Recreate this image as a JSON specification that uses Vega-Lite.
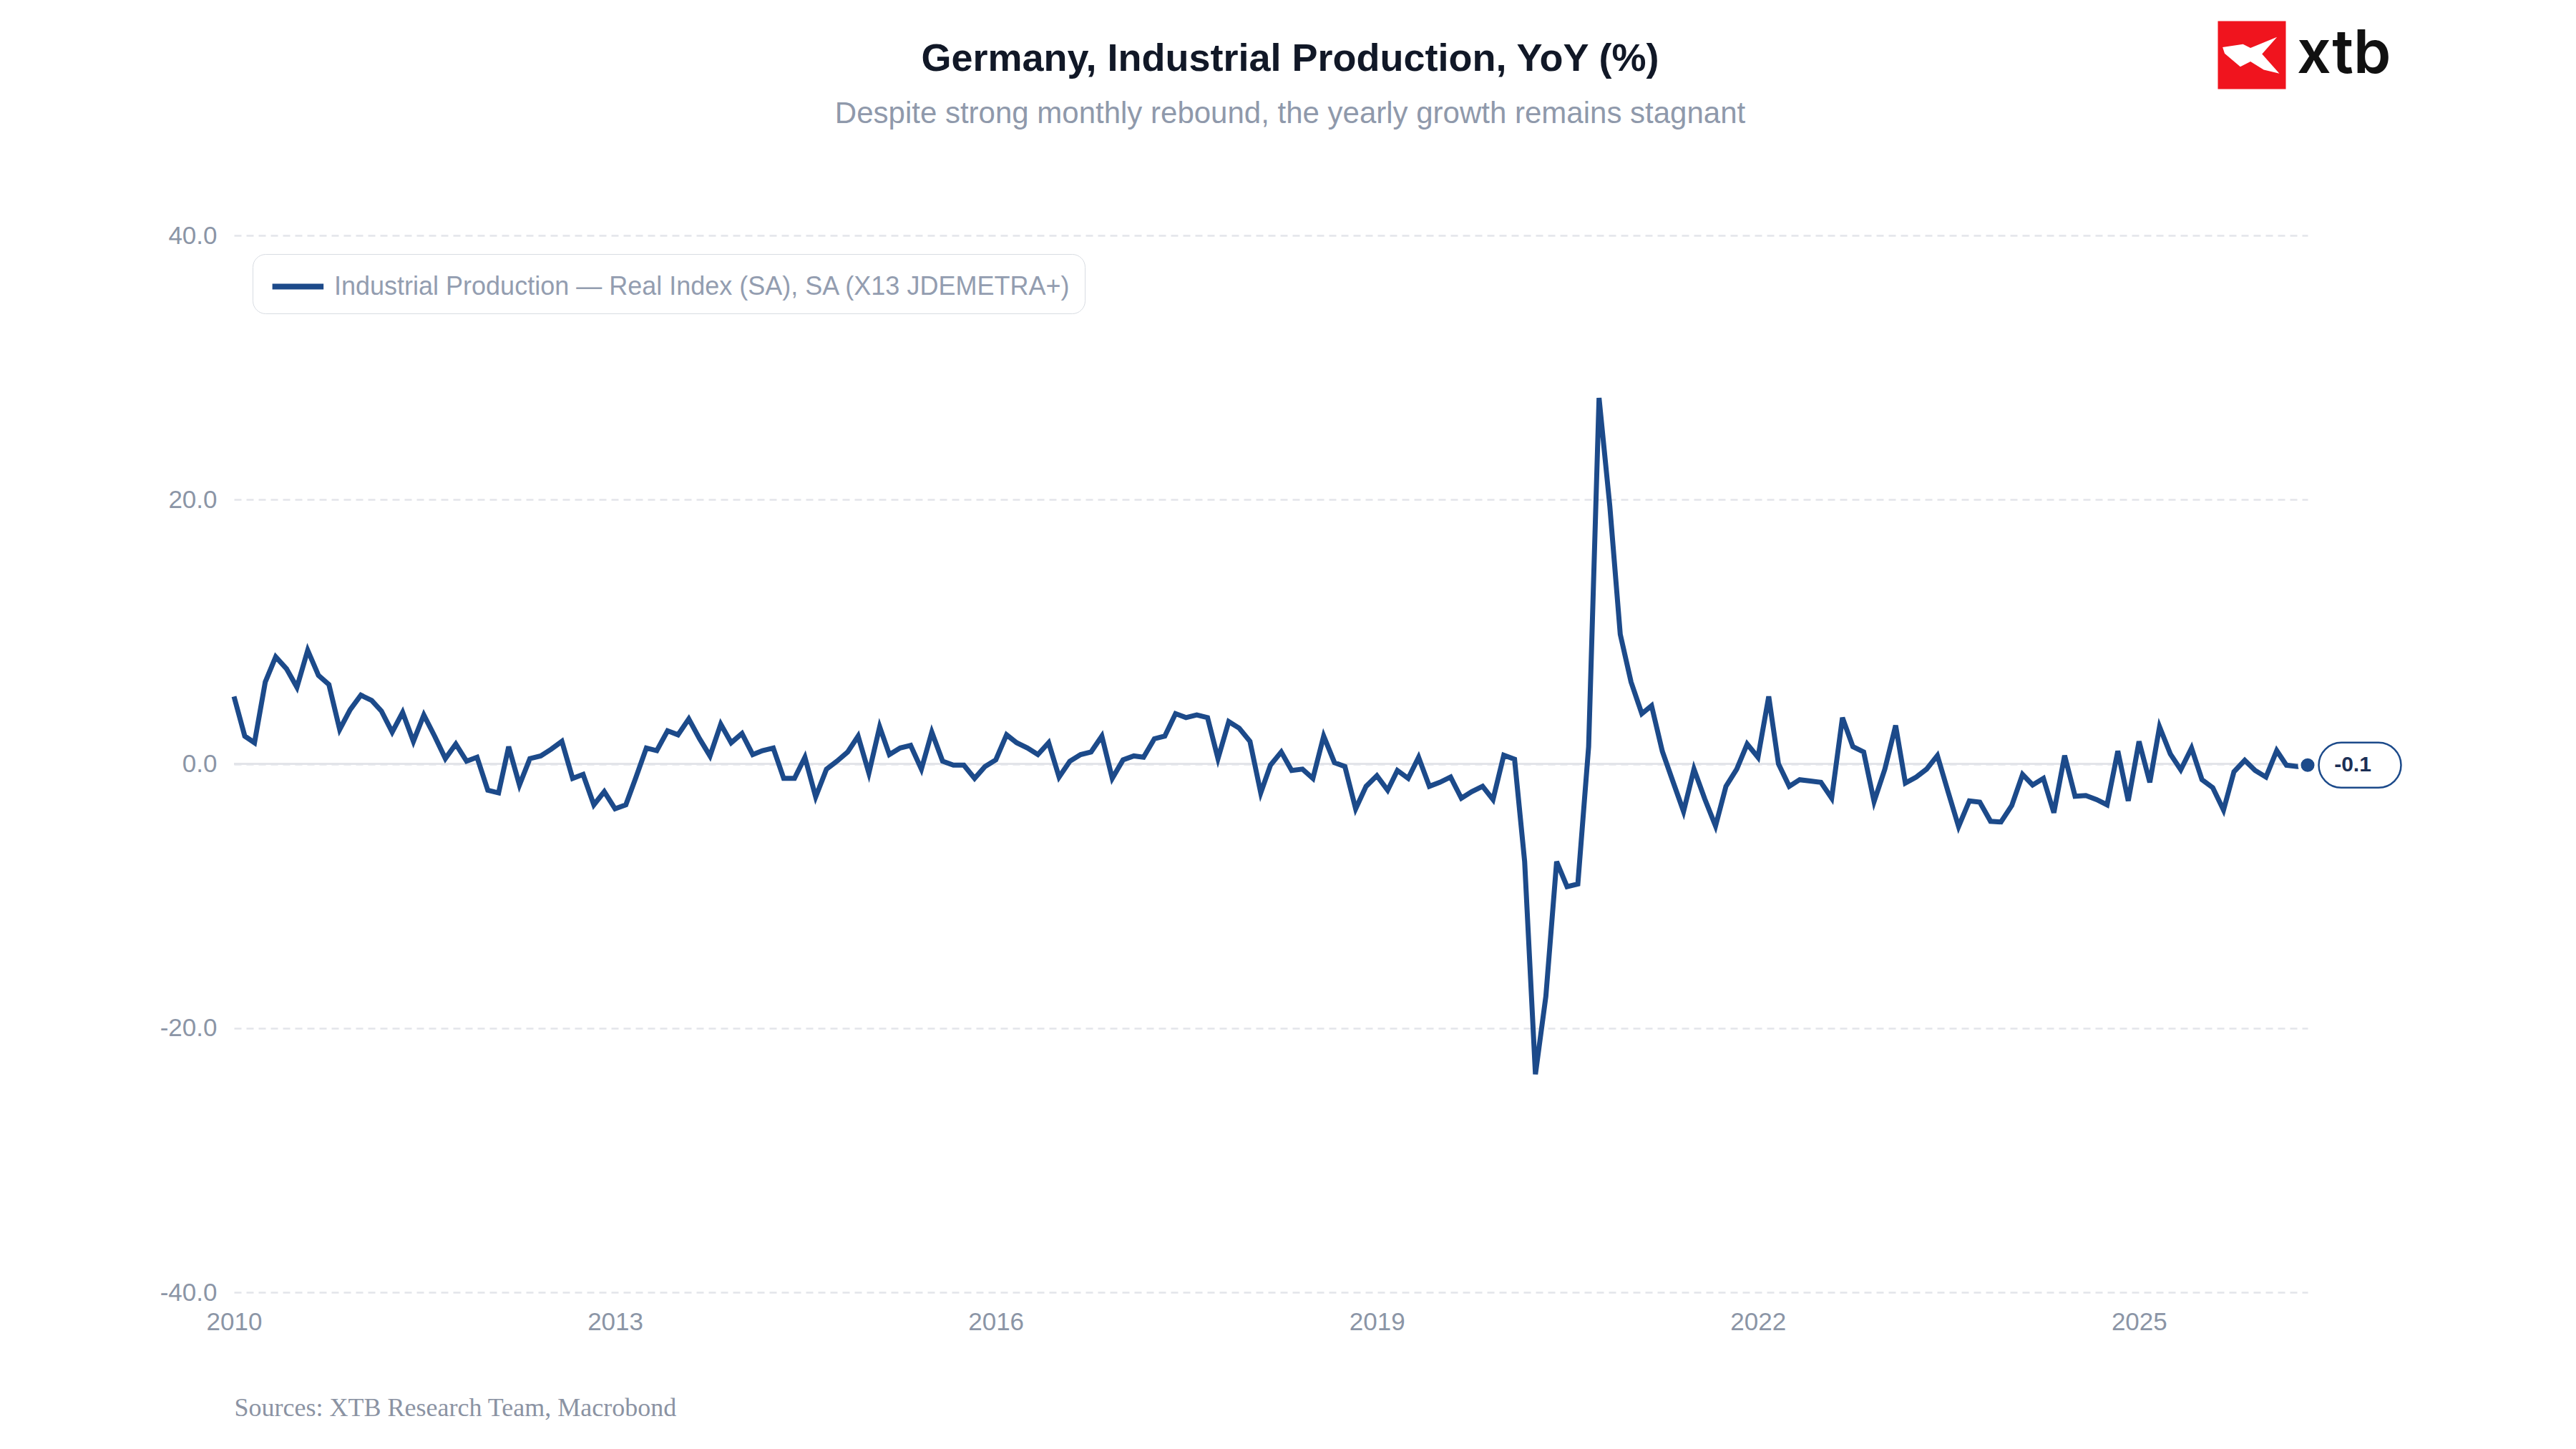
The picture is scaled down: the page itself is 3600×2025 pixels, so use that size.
{
  "$schema": "https://vega.github.io/schema/vega-lite/v6.json",
  "autosize": "none",
  "width": 2898,
  "height": 1477,
  "padding": {"left": 327, "top": 329, "right": 375, "bottom": 219},
  "background": "white",
  "title": {
    "text": "Germany, Industrial Production, YoY (%)",
    "subtitle": "Despite strong monthly rebound, the yearly growth remains stagnant",
    "anchor": "middle",
    "frame": "group",
    "dx": 27,
    "dy": 280,
    "offset": 130,
    "font": "Liberation Sans",
    "fontSize": 54,
    "fontWeight": "bold",
    "color": "#111827",
    "subtitleFont": "Liberation Sans",
    "subtitleFontSize": 42,
    "subtitleColor": "#8f99ab",
    "subtitlePadding": 29
  },
  "data": {
    "values": [
      {"date": "2010-01-01", "value": 5.1}, {"date": "2010-02-01", "value": 2.1}, {"date": "2010-03-01", "value": 1.6},
      {"date": "2010-04-01", "value": 6.2}, {"date": "2010-05-01", "value": 8.1}, {"date": "2010-06-01", "value": 7.2},
      {"date": "2010-07-01", "value": 5.8}, {"date": "2010-08-01", "value": 8.6}, {"date": "2010-09-01", "value": 6.7},
      {"date": "2010-10-01", "value": 6.0}, {"date": "2010-11-01", "value": 2.6}, {"date": "2010-12-01", "value": 4.1},
      {"date": "2011-01-01", "value": 5.2}, {"date": "2011-02-01", "value": 4.8}, {"date": "2011-03-01", "value": 4.0},
      {"date": "2011-04-01", "value": 2.4}, {"date": "2011-05-01", "value": 3.9}, {"date": "2011-06-01", "value": 1.7},
      {"date": "2011-07-01", "value": 3.7}, {"date": "2011-08-01", "value": 2.1}, {"date": "2011-09-01", "value": 0.4},
      {"date": "2011-10-01", "value": 1.5}, {"date": "2011-11-01", "value": 0.2}, {"date": "2011-12-01", "value": 0.5},
      {"date": "2012-01-01", "value": -2.0}, {"date": "2012-02-01", "value": -2.2}, {"date": "2012-03-01", "value": 1.3},
      {"date": "2012-04-01", "value": -1.6}, {"date": "2012-05-01", "value": 0.4}, {"date": "2012-06-01", "value": 0.6},
      {"date": "2012-07-01", "value": 1.1}, {"date": "2012-08-01", "value": 1.7}, {"date": "2012-09-01", "value": -1.1},
      {"date": "2012-10-01", "value": -0.8}, {"date": "2012-11-01", "value": -3.1}, {"date": "2012-12-01", "value": -2.1},
      {"date": "2013-01-01", "value": -3.4}, {"date": "2013-02-01", "value": -3.1}, {"date": "2013-03-01", "value": -1.1},
      {"date": "2013-04-01", "value": 1.2}, {"date": "2013-05-01", "value": 1.0}, {"date": "2013-06-01", "value": 2.5},
      {"date": "2013-07-01", "value": 2.2}, {"date": "2013-08-01", "value": 3.4}, {"date": "2013-09-01", "value": 1.9},
      {"date": "2013-10-01", "value": 0.6}, {"date": "2013-11-01", "value": 3.0}, {"date": "2013-12-01", "value": 1.6},
      {"date": "2014-01-01", "value": 2.3}, {"date": "2014-02-01", "value": 0.7}, {"date": "2014-03-01", "value": 1.0},
      {"date": "2014-04-01", "value": 1.2}, {"date": "2014-05-01", "value": -1.1}, {"date": "2014-06-01", "value": -1.1},
      {"date": "2014-07-01", "value": 0.5}, {"date": "2014-08-01", "value": -2.5}, {"date": "2014-09-01", "value": -0.4},
      {"date": "2014-10-01", "value": 0.2}, {"date": "2014-11-01", "value": 0.9}, {"date": "2014-12-01", "value": 2.1},
      {"date": "2015-01-01", "value": -0.7}, {"date": "2015-02-01", "value": 2.8}, {"date": "2015-03-01", "value": 0.7},
      {"date": "2015-04-01", "value": 1.2}, {"date": "2015-05-01", "value": 1.4}, {"date": "2015-06-01", "value": -0.4},
      {"date": "2015-07-01", "value": 2.4}, {"date": "2015-08-01", "value": 0.2}, {"date": "2015-09-01", "value": -0.1},
      {"date": "2015-10-01", "value": -0.1}, {"date": "2015-11-01", "value": -1.1}, {"date": "2015-12-01", "value": -0.2},
      {"date": "2016-01-01", "value": 0.3}, {"date": "2016-02-01", "value": 2.2}, {"date": "2016-03-01", "value": 1.6},
      {"date": "2016-04-01", "value": 1.2}, {"date": "2016-05-01", "value": 0.7}, {"date": "2016-06-01", "value": 1.6},
      {"date": "2016-07-01", "value": -1.0}, {"date": "2016-08-01", "value": 0.2}, {"date": "2016-09-01", "value": 0.7},
      {"date": "2016-10-01", "value": 0.9}, {"date": "2016-11-01", "value": 2.1}, {"date": "2016-12-01", "value": -1.1},
      {"date": "2017-01-01", "value": 0.3}, {"date": "2017-02-01", "value": 0.6}, {"date": "2017-03-01", "value": 0.5},
      {"date": "2017-04-01", "value": 1.9}, {"date": "2017-05-01", "value": 2.1}, {"date": "2017-06-01", "value": 3.8},
      {"date": "2017-07-01", "value": 3.5}, {"date": "2017-08-01", "value": 3.7}, {"date": "2017-09-01", "value": 3.5},
      {"date": "2017-10-01", "value": 0.4}, {"date": "2017-11-01", "value": 3.2}, {"date": "2017-12-01", "value": 2.7},
      {"date": "2018-01-01", "value": 1.7}, {"date": "2018-02-01", "value": -2.2}, {"date": "2018-03-01", "value": -0.1},
      {"date": "2018-04-01", "value": 0.9}, {"date": "2018-05-01", "value": -0.5}, {"date": "2018-06-01", "value": -0.4},
      {"date": "2018-07-01", "value": -1.1}, {"date": "2018-08-01", "value": 2.1}, {"date": "2018-09-01", "value": 0.1},
      {"date": "2018-10-01", "value": -0.2}, {"date": "2018-11-01", "value": -3.4}, {"date": "2018-12-01", "value": -1.7},
      {"date": "2019-01-01", "value": -0.9}, {"date": "2019-02-01", "value": -2.0}, {"date": "2019-03-01", "value": -0.5},
      {"date": "2019-04-01", "value": -1.1}, {"date": "2019-05-01", "value": 0.5}, {"date": "2019-06-01", "value": -1.7},
      {"date": "2019-07-01", "value": -1.4}, {"date": "2019-08-01", "value": -1.0}, {"date": "2019-09-01", "value": -2.6},
      {"date": "2019-10-01", "value": -2.1}, {"date": "2019-11-01", "value": -1.7}, {"date": "2019-12-01", "value": -2.7},
      {"date": "2020-01-01", "value": 0.65}, {"date": "2020-02-01", "value": 0.35}, {"date": "2020-03-01", "value": -7.4},
      {"date": "2020-04-01", "value": -23.5}, {"date": "2020-05-01", "value": -17.6}, {"date": "2020-06-01", "value": -7.4},
      {"date": "2020-07-01", "value": -9.3}, {"date": "2020-08-01", "value": -9.1}, {"date": "2020-09-01", "value": 1.3},
      {"date": "2020-10-01", "value": 27.7}, {"date": "2020-11-01", "value": 19.5}, {"date": "2020-12-01", "value": 9.8},
      {"date": "2021-01-01", "value": 6.2}, {"date": "2021-02-01", "value": 3.8}, {"date": "2021-03-01", "value": 4.4},
      {"date": "2021-04-01", "value": 0.95}, {"date": "2021-05-01", "value": -1.3}, {"date": "2021-06-01", "value": -3.6},
      {"date": "2021-07-01", "value": -0.4}, {"date": "2021-08-01", "value": -2.65}, {"date": "2021-09-01", "value": -4.7},
      {"date": "2021-10-01", "value": -1.7}, {"date": "2021-11-01", "value": -0.4}, {"date": "2021-12-01", "value": 1.5},
      {"date": "2022-01-01", "value": 0.5}, {"date": "2022-02-01", "value": 5.1}, {"date": "2022-03-01", "value": 0.0},
      {"date": "2022-04-01", "value": -1.7}, {"date": "2022-05-01", "value": -1.2}, {"date": "2022-06-01", "value": -1.3},
      {"date": "2022-07-01", "value": -1.4}, {"date": "2022-08-01", "value": -2.6}, {"date": "2022-09-01", "value": 3.5},
      {"date": "2022-10-01", "value": 1.3}, {"date": "2022-11-01", "value": 0.9}, {"date": "2022-12-01", "value": -2.85},
      {"date": "2023-01-01", "value": -0.4}, {"date": "2023-02-01", "value": 2.9}, {"date": "2023-03-01", "value": -1.45},
      {"date": "2023-04-01", "value": -1.0}, {"date": "2023-05-01", "value": -0.4}, {"date": "2023-06-01", "value": 0.63},
      {"date": "2023-07-01", "value": -2.05}, {"date": "2023-08-01", "value": -4.75}, {"date": "2023-09-01", "value": -2.8},
      {"date": "2023-10-01", "value": -2.9}, {"date": "2023-11-01", "value": -4.35}, {"date": "2023-12-01", "value": -4.4},
      {"date": "2024-01-01", "value": -3.15}, {"date": "2024-02-01", "value": -0.8}, {"date": "2024-03-01", "value": -1.6},
      {"date": "2024-04-01", "value": -1.1}, {"date": "2024-05-01", "value": -3.7}, {"date": "2024-06-01", "value": 0.63},
      {"date": "2024-07-01", "value": -2.45}, {"date": "2024-08-01", "value": -2.4}, {"date": "2024-09-01", "value": -2.7},
      {"date": "2024-10-01", "value": -3.1}, {"date": "2024-11-01", "value": 0.97}, {"date": "2024-12-01", "value": -2.8},
      {"date": "2025-01-01", "value": 1.7}, {"date": "2025-02-01", "value": -1.4}, {"date": "2025-03-01", "value": 2.8},
      {"date": "2025-04-01", "value": 0.75}, {"date": "2025-05-01", "value": -0.45}, {"date": "2025-06-01", "value": 1.2},
      {"date": "2025-07-01", "value": -1.2}, {"date": "2025-08-01", "value": -1.8}, {"date": "2025-09-01", "value": -3.5},
      {"date": "2025-10-01", "value": -0.6}, {"date": "2025-11-01", "value": 0.27}, {"date": "2025-12-01", "value": -0.5},
      {"date": "2026-01-01", "value": -1.0}, {"date": "2026-02-01", "value": 1.0}, {"date": "2026-03-01", "value": -0.1},
      {"date": "2026-04-01", "value": -0.2}, {"date": "2026-05-01", "value": -0.1}
    ]
  },
  "encoding": {
    "x": {
      "field": "date",
      "type": "temporal",
      "scale": {
        "type": "utc",
        "domain": [
          {"year": 2010, "month": 1, "date": 1, "utc": true},
          {"year": 2026, "month": 5, "date": 1, "utc": true}
        ]
      },
      "axis": {
        "format": "%Y",
        "tickCount": {"interval": "year", "step": 3},
        "grid": false,
        "domain": false,
        "ticks": false,
        "labelFlush": false,
        "labelFont": "Liberation Sans",
        "labelFontSize": 35,
        "labelColor": "#8b95a6",
        "labelPadding": 24,
        "title": "Sources: XTB Research Team, Macrobond",
        "titleFont": "Liberation Serif",
        "titleFontWeight": "normal",
        "titleFontSize": 36,
        "titleColor": "#8b93a3",
        "titleAnchor": "start",
        "titlePadding": 85
      }
    },
    "y": {
      "field": "value",
      "type": "quantitative",
      "scale": {"domain": [-40, 40], "nice": false},
      "axis": {
        "values": [-40, -20, 0, 20, 40],
        "format": ".1f",
        "grid": true,
        "gridDash": [10, 7],
        "gridColor": "#e3e5ea",
        "gridWidth": 2.5,
        "domain": false,
        "ticks": false,
        "labelFont": "Liberation Sans",
        "labelFontSize": 35,
        "labelColor": "#8b95a6",
        "labelPadding": 24,
        "title": null
      }
    }
  },
  "layer": [
    {
      "transform": [{"filter": {"field": "date", "equal": {"year": 2026, "month": 5, "date": 1, "utc": true}}}],
      "mark": {"type": "rule", "color": "#e2e4e9", "strokeWidth": 3},
      "encoding": {"x": null, "y": {"datum": 0}}
    },
    {
      "mark": {"type": "line", "strokeWidth": 7},
      "encoding": {
        "color": {
          "datum": "Industrial Production — Real Index (SA), SA (X13 JDEMETRA+)",
          "scale": {"range": ["#1c4a8a"]},
          "legend": {
            "title": null,
            "orient": "top-left",
            "offset": 26,
            "padding": 19,
            "strokeColor": "#d8dce2",
            "cornerRadius": 18,
            "fillColor": "white",
            "labelFont": "Liberation Sans",
            "labelFontSize": 36,
            "labelColor": "#939db0",
            "labelLimit": 0,
            "labelOffset": 42,
            "symbolType": "M-0.8,0H2.4",
            "symbolStrokeWidth": 8,
            "symbolSize": 2000
          }
        }
      }
    },
    {
      "transform": [{"filter": {"field": "date", "equal": {"year": 2026, "month": 5, "date": 1, "utc": true}}}],
      "mark": {"type": "point", "filled": true, "color": "#1c4a8a", "stroke": "white", "strokeWidth": 4, "size": 531, "opacity": 1}
    },
    {
      "transform": [{"filter": {"field": "date", "equal": {"year": 2026, "month": 5, "date": 1, "utc": true}}}],
      "mark": {
        "type": "point",
        "shape": "M-0.452,-0.548L0.452,-0.548A0.548,0.548 0 0 1 0.452,0.548L-0.452,0.548A0.548,0.548 0 0 1 -0.452,-0.548Z",
        "size": 13225,
        "filled": false,
        "fill": "white",
        "fillOpacity": 1,
        "stroke": "#1c4a8a",
        "strokeWidth": 2.5,
        "opacity": 1,
        "xOffset": 73
      }
    },
    {
      "transform": [{"filter": {"field": "date", "equal": {"year": 2026, "month": 5, "date": 1, "utc": true}}}],
      "mark": {
        "type": "text",
        "font": "Liberation Sans",
        "fontSize": 30,
        "fontWeight": "bold",
        "color": "#1b2f55",
        "align": "center",
        "baseline": "middle",
        "xOffset": 63
      },
      "encoding": {"text": {"field": "value", "type": "quantitative", "format": ".1f"}}
    },
    {
      "transform": [{"filter": {"field": "date", "equal": {"year": 2026, "month": 5, "date": 1, "utc": true}}}],
      "mark": {"type": "point", "shape": "square", "filled": true, "color": "#f0141e", "size": 9025, "opacity": 1, "xOffset": -78, "yOffset": -252},
      "encoding": {"y": {"datum": 40}}
    },
    {
      "transform": [{"filter": {"field": "date", "equal": {"year": 2026, "month": 5, "date": 1, "utc": true}}}],
      "mark": {
        "type": "point",
        "shape": "M-0.86,-0.23L-0.26,-0.32L-0.04,-0.21L0.74,-0.53L0.3,-0.03L0.81,0.54L0.35,0.43L-0.04,0.19L-0.34,0.34L-0.8,-0.05Z",
        "filled": true,
        "color": "white",
        "size": 9025,
        "opacity": 1,
        "xOffset": -78,
        "yOffset": -252
      },
      "encoding": {"y": {"datum": 40}}
    },
    {
      "transform": [{"filter": {"field": "date", "equal": {"year": 2026, "month": 5, "date": 1, "utc": true}}}],
      "mark": {
        "type": "text",
        "text": "xtb",
        "font": "Inter",
        "fontSize": 84,
        "fontWeight": 600,
        "color": "#111111",
        "align": "left",
        "baseline": "alphabetic",
        "xOffset": -15,
        "yOffset": -227
      },
      "encoding": {"y": {"datum": 40}}
    }
  ],
  "config": {
    "view": {"stroke": null},
    "locale": {
      "number": {"decimal": ".", "thousands": ",", "grouping": [3], "currency": ["$", ""], "minus": "-"}
    }
  }
}
